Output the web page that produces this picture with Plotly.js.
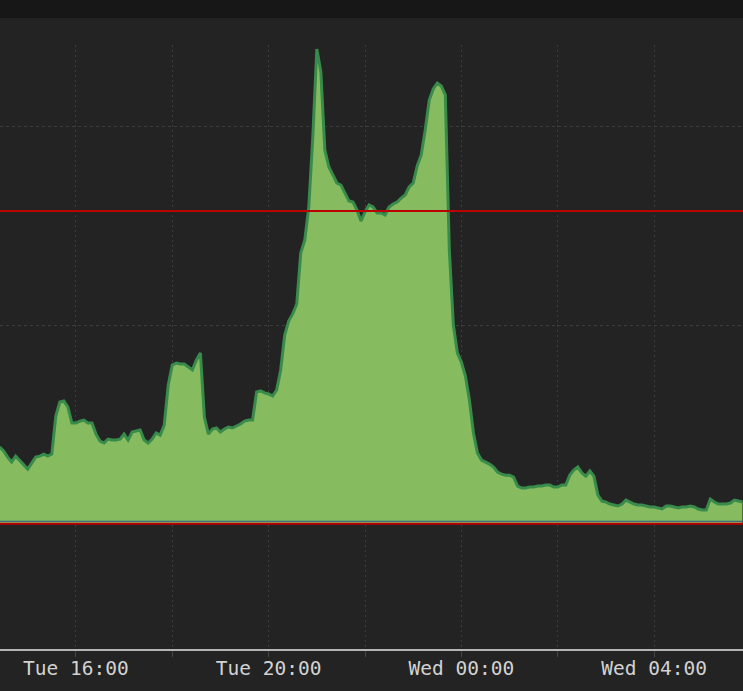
<!DOCTYPE html>
<html>
<head>
<meta charset="utf-8">
<script src="https://cdn.plot.ly/plotly-3.0.1.min.js"></script>
<style>
  html, body { margin: 0; padding: 0; background: #232323; }
  #chart { width: 743px; height: 691px; }
</style>
</head>
<body>
<div id="chart"></div>
<script>
// Series: one sample every 5 minutes starting Tue 14:25
const startTime = '2024-01-02 14:25:00';
const stepMinutes = 5;
const values = [
  38.4, 36.4, 33.3, 30.8, 33.8, 31.8, 29.3, 27.3, 30.3, 33.3,
  33.8, 34.8, 33.8, 34.8, 54.0, 61.1, 61.6, 58.6, 50.5, 50.5,
  51.5, 52.0, 50.5, 50.5, 44.9, 41.4, 40.4, 42.4, 41.9, 41.9,
  42.4, 44.9, 41.9, 46.0, 46.5, 47.0, 41.9, 40.4, 42.4, 45.5,
  44.4, 49.5, 69.7, 79.8, 80.8, 80.3, 80.3, 78.8, 77.3, 82.3,
  85.9, 53.5, 44.9, 47.5, 48.0, 46.0, 47.5, 48.5, 48.0, 49.0,
  50.0, 51.5, 52.0, 52.0, 66.2, 66.7, 65.7, 65.2, 64.1, 67.2,
  77.3, 94.9, 102.0, 105.6, 110.6, 136.4, 142.9, 159.6, 194.9, 239.4,
  227.8, 188.4, 179.8, 175.8, 171.7, 170.7, 166.7, 162.6, 162.1, 158.1,
  152.5, 157.1, 160.6, 159.6, 156.6, 156.6, 155.6, 159.6, 161.1, 162.1,
  164.1, 165.7, 169.7, 171.7, 180.3, 185.9, 198.5, 213.6, 219.2, 222.2,
  220.7, 216.2, 137.9, 100.0, 85.9, 81.3, 74.2, 62.1, 45.5, 35.4,
  31.8, 30.8, 29.8, 28.3, 25.8, 24.7, 24.2, 24.2, 23.2, 18.7,
  17.7, 17.7, 18.2, 18.2, 18.7, 18.7, 19.2, 19.2, 18.2, 18.2,
  19.2, 19.2, 24.2, 26.8, 28.3, 25.3, 23.7, 26.3, 23.7, 14.1,
  11.1, 10.6, 9.6, 9.1, 8.6, 9.6, 11.6, 10.6, 9.6, 9.1,
  9.1, 8.6, 8.1, 8.1, 7.6, 7.1, 8.6, 8.6, 8.1, 7.6,
  8.1, 8.1, 8.6, 8.1, 7.1, 6.6, 6.6, 12.1, 10.6, 9.6,
  9.6, 9.6, 10.1, 11.6, 11.1, 10.6
];
const upperThreshold = 157.6;
const lowerThreshold = 0;

const trace = {
  type: 'scatter',
  mode: 'lines',
  x0: startTime,
  dx: stepMinutes * 60 * 1000,
  y: values,
  fill: 'tozeroy',
  fillcolor: '#86bc5f',
  line: { color: '#388b4a', width: 3 },
  hoverinfo: 'skip'
};

const gridColor = '#3c3c3c';

const layout = {
  width: 743,
  height: 691,
  margin: { l: 0, r: 0, t: 45, b: 42, pad: 0 },
  paper_bgcolor: '#232323',
  plot_bgcolor: '#232323',
  showlegend: false,
  xaxis: {
    type: 'date',
    range: ['2024-01-02 14:25:30', '2024-01-03 05:50:41'],
    tick0: '2024-01-02 00:00:00',
    dtick: 4 * 3600 * 1000,
    tickformat: '%a %H:%M',
    showgrid: true,
    gridcolor: gridColor,
    griddash: '2px,3px',
    gridwidth: 1,
    ticks: 'outside',
    ticklen: 6,
    tickcolor: '#444444',
    ticklabelstandoff: -5,
    showline: true,
    linecolor: '#b4b4b4',
    linewidth: 2,
    zeroline: false,
    tickfont: { family: 'DejaVu Sans Mono', size: 19.5, color: '#d2d2d2' },
    minor: {
      dtick: 2 * 3600 * 1000,
      showgrid: true,
      gridcolor: gridColor,
      griddash: '2px,3px',
      ticks: 'outside',
      ticklen: 6,
      tickcolor: '#444444'
    },
    fixedrange: true
  },
  yaxis: {
    range: [-63.6, 241.4],
    dtick: 100,
    showgrid: true,
    gridcolor: gridColor,
    griddash: '3px,3px',
    showticklabels: false,
    ticks: '',
    zeroline: false,
    showline: false,
    fixedrange: true
  },
  shapes: [
    { type: 'rect', xref: 'paper', yref: 'paper', x0: -0.01, x1: 1.01,
      y0: 1.0447, y1: 1.09, fillcolor: '#171717', line: { width: 0 }, layer: 'below' },
    { type: 'line', xref: 'paper', yref: 'y', x0: 0, x1: 1,
      y0: lowerThreshold + 0.9, y1: lowerThreshold + 0.9, line: { color: '#2e5b88', width: 1 } },
    { type: 'line', xref: 'paper', yref: 'y', x0: 0, x1: 1,
      y0: lowerThreshold - 0.3, y1: lowerThreshold - 0.3, line: { color: '#bb0000', width: 2 } },
    { type: 'line', xref: 'paper', yref: 'y', x0: 0, x1: 1,
      y0: upperThreshold, y1: upperThreshold, line: { color: '#bb0000', width: 2 } }
  ]
};

Plotly.newPlot('chart', [trace], layout, { displayModeBar: false, staticPlot: true });
</script>
</body>
</html>
